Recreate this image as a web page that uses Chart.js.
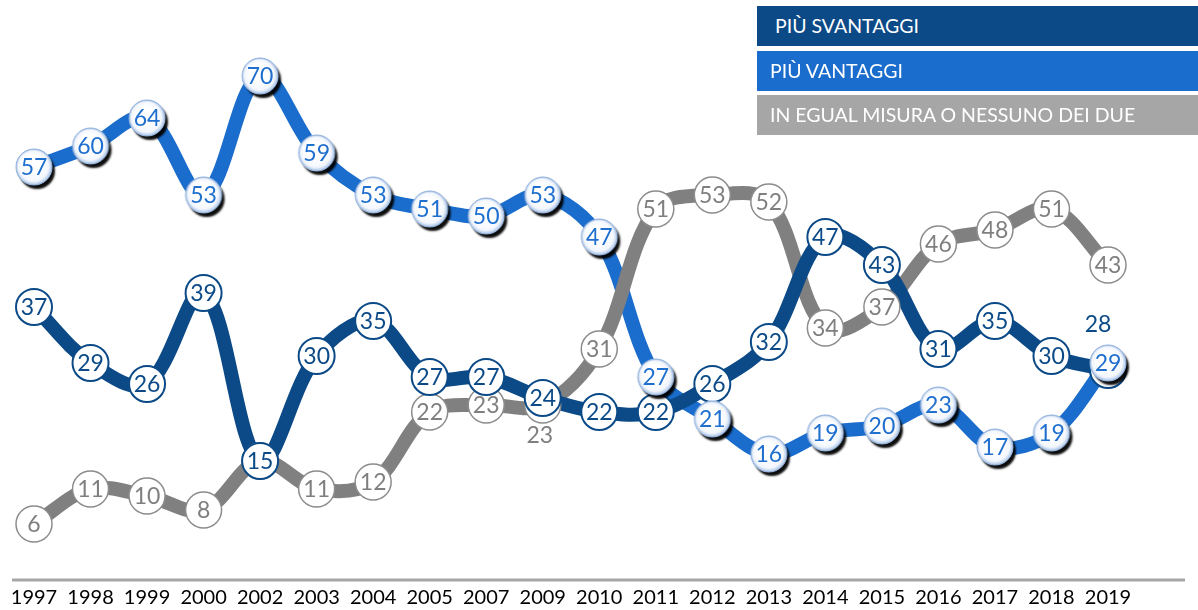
<!DOCTYPE html>
<html>
<head>
<meta charset="utf-8">
<script src="https://cdn.jsdelivr.net/npm/chart.js@4.4.1/dist/chart.umd.min.js"></script>
<style>
  html, body { margin:0; padding:0; background:#fff; }
  #wrap { position:relative; width:1198px; height:610px; overflow:hidden; }
  #c { position:absolute; left:0; top:0; }
  .lg { position:absolute; left:757px; width:441px; height:40px; color:#fff;
        font-family:Lato, "Open Sans", sans-serif; font-size:19.5px; line-height:40px; box-sizing:border-box; }
</style>
</head>
<body>
<div id="wrap">
  <canvas id="c" width="1198" height="610"></canvas>
  <div class="lg" style="top:6px;background:#0C4A87;padding-left:18px;">PIÙ SVANTAGGI</div>
  <div class="lg" style="top:51px;background:#1A6DCC;padding-left:13px;">PIÙ VANTAGGI</div>
  <div class="lg" style="top:95px;background:#A6A6A6;padding-left:13px;">IN EGUAL MISURA O NESSUNO DEI DUE</div>
</div>
<script>
const years = ['1997','1998','1999','2000','2002','2003','2004','2005','2007','2009','2010','2011','2012','2013','2014','2015','2016','2017','2018','2019'];
const svantaggi = [37,29,26,39,15,30,35,27,27,24,22,22,26,32,47,43,31,35,30,28];
const vantaggi  = [57,60,64,53,70,59,53,51,50,53,47,27,21,16,19,20,23,17,19,29];
const egual     = [6,11,10,8,15,11,12,22,23,23,31,51,53,52,34,37,46,48,51,43];

const DARK = '#0B4A87', BLUE = '#1A6DCC', GRAY = '#808080';

function makeGloss(r) {
  const pad = 8, s = 2 * r + 2 * pad;
  const cv = document.createElement('canvas');
  cv.width = s; cv.height = s;
  const g = cv.getContext('2d');
  const c = s / 2;
  g.save();
  g.shadowColor = 'rgba(0,0,0,0.95)';
  g.shadowOffsetX = 3; g.shadowOffsetY = 4; g.shadowBlur = 2;
  g.beginPath(); g.arc(c, c, r, 0, Math.PI * 2); g.fillStyle = '#fff'; g.fill();
  g.restore();
  const grd = g.createRadialGradient(c - 2, c - 3, r * 0.45, c, c, r);
  grd.addColorStop(0, '#ffffff');
  grd.addColorStop(0.7, '#f3f7fd');
  grd.addColorStop(1, '#a9c3e6');
  g.beginPath(); g.arc(c, c, r, 0, Math.PI * 2); g.fillStyle = grd; g.fill();
  g.lineWidth = 1; g.strokeStyle = '#8eaedb'; g.stroke();
  return cv;
}
const gloss = makeGloss(18);

const axisLine = {
  id: 'axisLine',
  beforeDatasetsDraw(chart) {
    const ctx = chart.ctx;
    ctx.save();
    ctx.strokeStyle = '#A6A6A6'; ctx.lineWidth = 3;
    ctx.beginPath(); ctx.moveTo(12, 580); ctx.lineTo(1185, 580); ctx.stroke();
    ctx.restore();
  }
};

const pointLabels = {
  id: 'pointLabels',
  afterDatasetDraw(chart, args) {
    const ds = chart.data.datasets[args.index];
    if (!ds.labelColor) return;
    const ctx = chart.ctx;
    ctx.save();
    ctx.font = '23px Lato, "Open Sans", sans-serif';
    ctx.textAlign = 'center'; ctx.textBaseline = 'middle';
    ctx.fillStyle = ds.labelColor;
    args.meta.data.forEach((el, j) => {
      const sh = (ds.labelShift && ds.labelShift[j]) || [0, 0];
      ctx.fillText(String(ds.data[j]), el.x + sh[0], el.y + 1 + sh[1]);
    });
    ctx.restore();
  }
};

const lineBase = { borderWidth: 14, tension: 0.35, clip: false, pointRadius: 0 };
const markBase = { showLine: false, clip: false, pointRadius: 18 };

new Chart(document.getElementById('c'), {
  type: 'line',
  data: {
    labels: years,
    datasets: [
      Object.assign({ label: 'PIÙ VANTAGGI', data: vantaggi, order: 5, borderColor: BLUE }, lineBase),
      Object.assign({ label: 'IN EGUAL MISURA O NESSUNO DEI DUE', data: egual, order: 4, borderColor: GRAY }, lineBase),
      Object.assign({ label: 'PIÙ SVANTAGGI', data: svantaggi, order: 3, borderColor: DARK }, lineBase),
      Object.assign({ label: 'egual-m', data: egual, order: 2, pointBorderWidth: 1.5,
        pointBackgroundColor: '#fff', pointBorderColor: '#8C8C8C',
        labelColor: '#7F7F7F', labelShift: { 9: [-3, 30] } }, markBase),
      Object.assign({ label: 'svantaggi-m', data: svantaggi, order: 1, pointBorderWidth: 2,
        pointBackgroundColor: '#fff', pointBorderColor: DARK,
        labelColor: DARK, labelShift: { 19: [-10, -46] } }, markBase),
      Object.assign({ label: 'vantaggi-m', data: vantaggi, order: 0, pointStyle: gloss,
        labelColor: '#1F6FCF' }, markBase)
    ]
  },
  options: {
    responsive: false,
    animation: false,
    events: [],
    layout: { autoPadding: false, padding: { left: 34, right: 90, top: 6, bottom: 0 } },
    plugins: { legend: { display: false }, tooltip: { enabled: false } },
    scales: {
      x: {
        grid: { display: false, drawTicks: false }, border: { display: false },
        afterFit(scale) { scale.height = 44; scale.paddingLeft = 0; scale.paddingRight = 0; },
        ticks: { padding: 20, color: '#000', font: { family: 'Lato', size: 20 }, maxRotation: 0, autoSkip: false }
      },
      y: { display: false, min: 0, max: 80 }
    }
  },
  plugins: [axisLine, pointLabels]
});
</script>
</body>
</html>
